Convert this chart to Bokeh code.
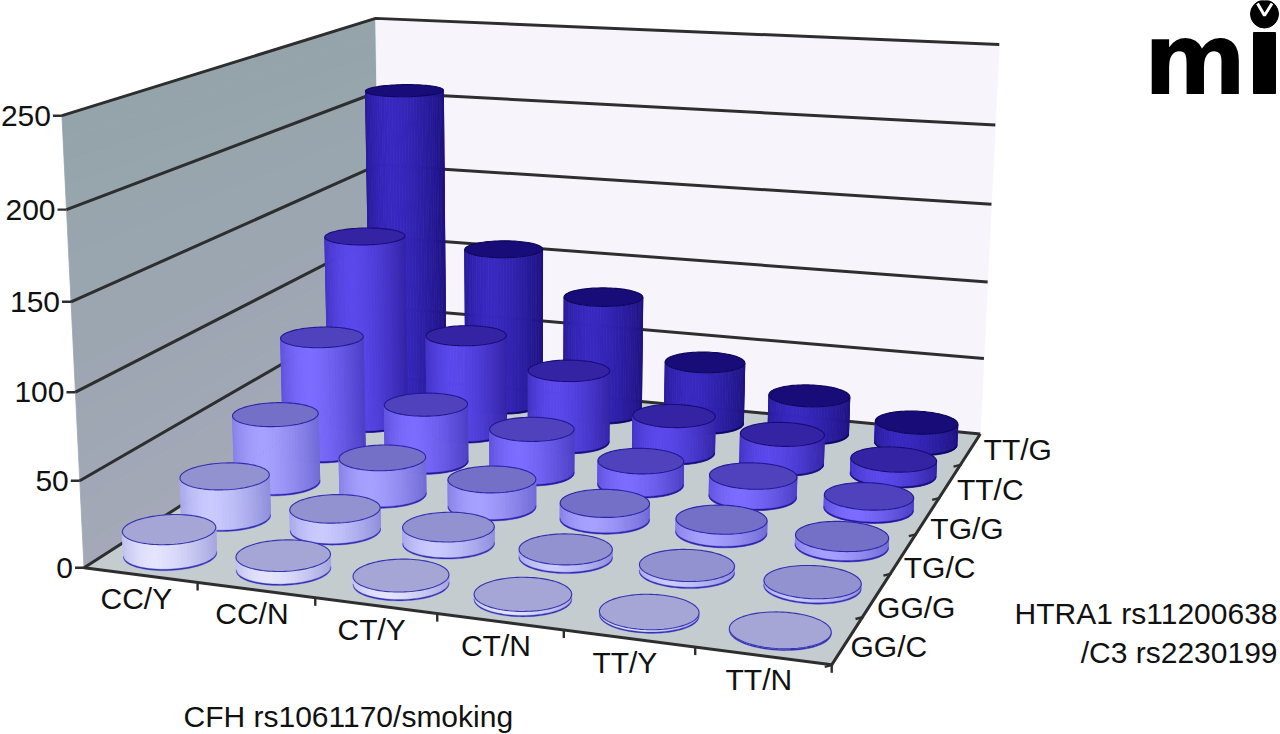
import numpy as np
from bokeh.plotting import figure
from bokeh.models import Range1d, ColumnDataSource
from bokeh.core.properties import value
from bokeh.embed import file_html
from bokeh.resources import INLINE

# ---------------- data ----------------
cfh_smoking = ["CC/Y", "CC/N", "CT/Y", "CT/N", "TT/Y", "TT/N"]
htra1_c3 = ["GG/C", "GG/G", "TG/C", "TG/G", "TT/C", "TT/G"]
y_ticks = [0, 50, 100, 150, 200, 250]

n_GG_C = [15, 8, 5, 3, 2, 1]
n_GG_G = [25, 13, 10, 5, 4, 3]
n_TG_C = [43, 23, 17, 10, 8, 6]
n_TG_G = [74, 37, 28, 15, 13, 8]
n_TT_C = [124, 64, 47, 24, 19, 10]
n_TT_G = [208, 106, 79, 41, 25, 14]
series = [n_GG_C, n_GG_G, n_TG_C, n_TG_G, n_TT_C, n_TT_G]

x_title = "CFH rs1061170/smoking"
z_title = ["HTRA1 rs11200638", "/C3 rs2230199"]

# ---------------- 3-D view (perspective camera fitted to the box frame) ----------------
UNIT = 50.0  # value units per height unit of the box
calib = [
    ((0, 0, 0), (85, 566)), ((0, 50, 0), (80, 479)), ((0, 100, 0), (75, 390)),
    ((0, 150, 0), (70, 297)), ((0, 200, 0), (67, 209)), ((0, 250, 0), (62, 115)),
    ((0, 0, 6), (380, 378)), ((0, 50, 6), (379, 307)), ((0, 100, 6), (378, 238)),
    ((0, 150, 6), (377, 168)), ((0, 200, 6), (376, 93)), ((0, 250, 6), (375, 14)),
    ((6, 0, 6), (980, 433)), ((6, 50, 6), (985, 358)), ((6, 100, 6), (987, 283)),
    ((6, 150, 6), (992, 205)), ((6, 200, 6), (995, 127)), ((6, 250, 6), (998, 44)),
    ((1, 0, 0), (198, 585)), ((2, 0, 0), (316, 600)), ((3, 0, 0), (438, 617)),
    ((4, 0, 0), (563, 633)), ((5, 0, 0), (693, 652)), ((6, 0, 0), (829, 667)),
    ((6, 0, 1), (861, 617)), ((6, 0, 2), (890, 572)), ((6, 0, 3), (914, 533)),
    ((6, 0, 4), (937, 497)), ((6, 0, 5), (960, 462)),
    ((0.5, 0, 0.5), (169, 552)), ((1.5, 0, 0.5), (282.5, 567)), ((2.5, 0, 0.5), (401, 582)),
    ((3.5, 0, 0.5), (522.5, 599)), ((4.5, 0, 0.5), (648.5, 615.5)), ((5.5, 0, 0.5), (779, 631)),
    ((5.5, 0, 1.5), (811.5, 586)), ((5.5, 0, 2.5), (842, 542.5)), ((5.5, 0, 3.5), (868.5, 505)),
    ((5.5, 0, 4.5), (894, 471)), ((5.5, 0, 5.5), (917, 442)),
]
U0, V0, S0 = 530.0, 370.0, 300.0
A = []
for (X, val, Z), (u, v) in calib:
    H = val / UNIT
    un, vn = (u - U0) / S0, (v - V0) / S0
    A.append([X, H, Z, 1, 0, 0, 0, 0, -un * X, -un * H, -un * Z, -un])
    A.append([0, 0, 0, 0, X, H, Z, 1, -vn * X, -vn * H, -vn * Z, -vn])
_, _, vt = np.linalg.svd(np.array(A, float))
M = vt[-1].reshape(3, 4)
_, _, vt2 = np.linalg.svd(M)
CAM = vt2[-1][:3] / vt2[-1][3]


def proj(X, H, Z):
    X, H, Z = np.broadcast_arrays(np.asarray(X, float), np.asarray(H, float), np.asarray(Z, float))
    q = M @ np.vstack([X.ravel(), H.ravel(), Z.ravel(), np.ones(X.size)])
    return q[0] / q[2] * S0 + U0, q[1] / q[2] * S0 + V0


def P1(X, H, Z):
    a, b = proj(X, H, Z)
    return float(a[0]), float(b[0])


def hexc(c):
    return "#%02x%02x%02x" % tuple(int(round(max(0, min(255, x)))) for x in c)


def lerp(c1, c2, t):
    return tuple(a + (b - a) * t for a, b in zip(c1, c2))


# ---------------- figure (the page template has no body margin) ----------------
p = figure(width=1280, height=734, x_range=Range1d(0, 1280), y_range=Range1d(734, 0),
           output_backend="svg", toolbar_location=None, min_border=0,
           x_axis_location=None, y_axis_location=None)
p.grid.visible = False
p.outline_line_color = None
p.background_fill_color = "white"
p.border_fill_color = "white"

NX, NZ, HMAX = len(cfh_smoking), len(htra1_c3), y_ticks[-1] / UNIT

# walls and floor
wxs, wys, wcol = [], [], []
nb = 20
top_c, bot_c = (148, 164, 170), (164, 168, 184)
for j in range(nb):
    h0, h1 = HMAX * j / nb, HMAX * (j + 1) / nb
    xs, ys = proj([0, 0, 0, 0], [h0, h0, h1, h1], [0, NZ, NZ, 0])
    wxs.append(list(xs)); wys.append(list(ys)); wcol.append(hexc(lerp(bot_c, top_c, (j + 0.5) / nb)))
xs, ys = proj([0, NX, NX, 0], [0, 0, HMAX, HMAX], [NZ, NZ, NZ, NZ])
wxs.append(list(xs)); wys.append(list(ys)); wcol.append("#f7f5fb")
xs, ys = proj([0, NX, NX, 0], [0, 0, 0, 0], [0, 0, NZ, NZ])
wxs.append(list(xs)); wys.append(list(ys)); wcol.append("#c4ccd0")
p.patches(wxs, wys, fill_color=wcol, line_color=wcol, line_width=0.8)

# gridlines on walls
gx, gy = [], []
for t in y_ticks:
    xs, ys = proj([0, 0, NX], [t / UNIT] * 3, [0, NZ, NZ])
    gx.append(list(xs)); gy.append(list(ys))
xs, ys = proj([0, NX, NX], [0, 0, 0], [0, 0, NZ])
gx.append(list(xs)); gy.append(list(ys))
p.multi_line(gx, gy, line_color="#2e2e2e", line_width=3, line_join="round")

# ticks
tx, ty = [], []
for t in y_ticks:
    ex, ey = P1(0, t / UNIT, 0)
    tx.append([ex - 9, ex]); ty.append([ey, ey])
for i in range(1, NX + 1):
    ex, ey = P1(i, 0, 0)
    tx.append([ex, ex]); ty.append([ey, ey + 8])
for k in range(0, NZ):
    ex, ey = P1(NX, 0, k)
    tx.append([ex - 7, ex + 1]); ty.append([ey + 2, ey])
p.multi_line(tx, ty, line_color="#2e2e2e", line_width=2.4)

# ---------------- cylinders ----------------
side_bright = [(228, 228, 255), (202, 202, 255), (166, 160, 255), (124, 108, 255), (90, 72, 236), (56, 40, 192)]
side_dark = [(126, 126, 205), (104, 104, 198), (78, 72, 188), (46, 34, 160), (28, 14, 124), (14, 4, 90)]
top_col = [(165, 165, 214), (146, 146, 208), (116, 112, 200), (80, 66, 188), (52, 36, 164), (24, 12, 120)]
rim_col = [(52, 52, 178), (50, 48, 176), (44, 36, 170), (36, 24, 150), (26, 12, 120), (14, 6, 90)]
R = 0.37
NS = 40


def shade(t):
    if t < 0.35:
        return 1 - 0.35 * ((0.35 - t) / 0.35) ** 2
    return 1 - 0.6 * ((t - 0.35) / 0.65) ** 1.5


order = []
for k, row in enumerate(series):
    for i, v in enumerate(row):
        cx, cz = i + 0.5, k + 0.5
        order.append((np.hypot(CAM[0] - cx, CAM[2] - cz), i, k, v))
order.sort(reverse=True)

cxs, cys, cfill, cline, clw = [], [], [], [], []
for _, i, k, v in order:
    cx, cz = i + 0.5, k + 0.5
    h = v / UNIT
    phi = np.arctan2(CAM[2] - cz, CAM[0] - cx)
    d = np.hypot(CAM[0] - cx, CAM[2] - cz)
    a = np.arccos(R / d)
    th = np.linspace(phi - a, phi + a, NS + 1)
    px_, pz_ = cx + R * np.cos(th), cz + R * np.sin(th)
    bx, by = proj(px_, 0 * th, pz_)
    ux, uy = proj(px_, h + 0 * th, pz_)
    xl, xr = bx.min(), bx.max()
    for j in range(NS):
        t = ((bx[j] + bx[j + 1]) / 2 - xl) / (xr - xl)
        c = hexc(lerp(side_dark[k], side_bright[k], shade(t)))
        cxs.append([bx[j], bx[j + 1], ux[j + 1], ux[j]])
        cys.append([by[j], by[j + 1], uy[j + 1], uy[j]])
        cfill.append(c); cline.append(c); clw.append(0.8)
    rc = hexc(rim_col[k])
    cxs.append(list(bx) + list(bx[::-1]))
    cys.append(list(by) + list(by[::-1] - 1.4))
    cfill.append(rc); cline.append(rc); clw.append(0.3)
    tt = np.linspace(0, 2 * np.pi, 97)
    ex_, ey_ = proj(cx + R * np.cos(tt), h + 0 * tt, cz + R * np.sin(tt))
    cxs.append(list(ex_)); cys.append(list(ey_))
    cfill.append(hexc(top_col[k])); cline.append(rc); clw.append(1.1)

src = ColumnDataSource(dict(xs=cxs, ys=cys, fill=cfill, line=cline, lw=clw))
p.patches("xs", "ys", source=src, fill_color="fill", line_color="line", line_width="lw")

# ---------------- texts ----------------
FONT = value("Liberation Sans")
FSZ = 30
FS = "%dpx" % FSZ
BL = -0.3465 * FSZ  # the SVG text renderer draws the baseline this much lower
lx, ly = [], []
for t in y_ticks:
    ex, ey = P1(0, t / UNIT, 0)
    lx.append(ex - 11); ly.append(ey + 10.5 + BL)
p.text(lx, ly, text=[str(t) for t in y_ticks], text_font=FONT, text_font_size=FS,
       text_align="right", text_baseline="alphabetic", text_color="#111111")

lx, ly = [], []
for i in range(NX):
    ex, ey = P1(i + 0.5, 0, 0)
    lx.append(ex - 4); ly.append(ey + 34 + BL)
p.text(lx, ly, text=cfh_smoking, text_font=FONT, text_font_size=FS,
       text_align="center", text_baseline="alphabetic", text_color="#111111")

ax_, ay_ = P1(NX, 0, 0.5)
bx_, by_ = P1(NX, 0, NZ - 0.5)
ax_, ay_, bx_, by_ = ax_ + 3, ay_ + 17 + BL, bx_ + 13, by_ + 11 + BL
lx = [ax_ + (bx_ - ax_) * k / (NZ - 1) for k in range(NZ)]
ly = [ay_ + (by_ - ay_) * k / (NZ - 1) for k in range(NZ)]
p.text(lx, ly, text=htra1_c3, text_font=FONT, text_font_size=FS,
       text_align="left", text_baseline="alphabetic", text_color="#111111")

p.text([183], [726 + BL], text=[x_title], text_font=FONT, text_font_size=FS,
       text_align="left", text_baseline="alphabetic", text_color="#111111")
p.text([1277, 1277], [623 + BL, 662 + BL], text=z_title, text_font=FONT, text_font_size=FS,
       text_align="right", text_baseline="alphabetic", text_color="#111111")

# logo
LOGO_FS = 99
p.text([1143], [93 - 0.346 * LOGO_FS], text=["m"], text_font=value("DejaVu Sans"), text_font_style="bold",
       text_font_size="%dpx" % LOGO_FS, text_align="left", text_baseline="alphabetic", text_color="black")
p.quad(left=[1253], right=[1275], top=[32], bottom=[93], color="black")
p.scatter([1264], [13.5], size=28, color="black")
p.line([1257, 1264, 1271.5], [3, 15, 3], line_color="white", line_width=3)

open("out.html", "w").write(file_html(p, INLINE))
